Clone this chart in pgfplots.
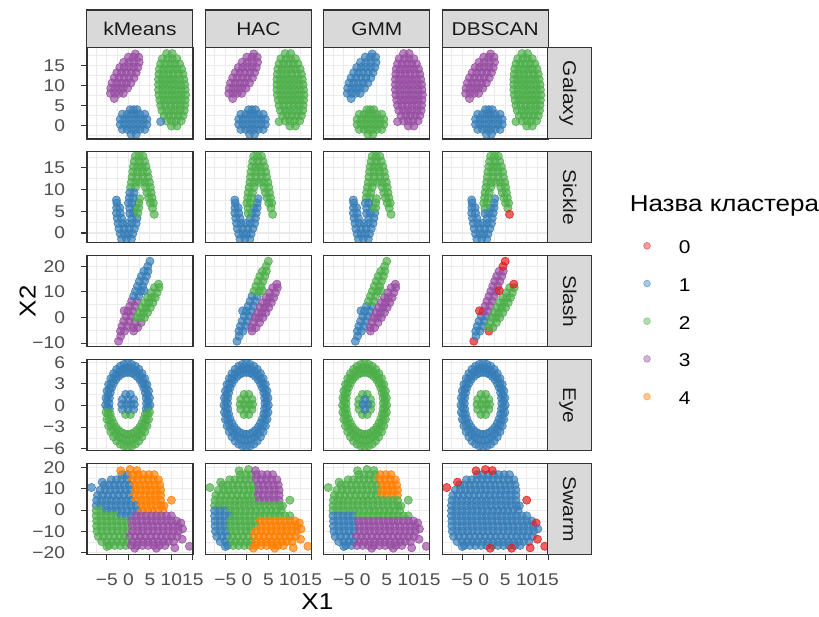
\documentclass[border=0pt]{standalone}
\usepackage{pgfplots}
\pgfplotsset{compat=1.18}
\usepackage{pgfplotstable}
\usepackage{fontspec}
\setmainfont[FakeStretch=1.13]{Liberation Sans}

\definecolor{c0}{HTML}{E41A1C}
\definecolor{c1}{HTML}{377EB8}
\definecolor{c2}{HTML}{4DAF4A}
\definecolor{c3}{HTML}{984EA3}
\definecolor{c4}{HTML}{FF7F00}
\definecolor{grey10}{HTML}{1A1A1A}
\definecolor{grey20}{HTML}{333333}
\definecolor{grey30}{HTML}{4D4D4D}
\definecolor{grey85}{HTML}{D9D9D9}
\definecolor{grey92}{HTML}{EBEBEB}

\newcommand{\fs}[1]{\fontsize{#1}{#1}\selectfont}

% columns: x, y, then the cluster label given by kMeans, HAC, GMM, DBSCAN
\pgfplotstableread[row sep=\\]{
x y k h g d\\
-3.3 6.7 3 3 1 3\\
-4.2 8.0 3 3 1 3\\ -3.2 8.0 3 3 1 3\\ -2.2 8.0 3 3 1 3\\ -1.2 8.0 3 3 1 3\\
-4.1 9.3 3 3 1 3\\ -3.1 9.3 3 3 1 3\\ -2.1 9.3 3 3 1 3\\ -1.2 9.3 3 3 1 3\\ -0.2 9.3 3 3 1 3\\
-3.8 10.6 3 3 1 3\\ -2.7 10.6 3 3 1 3\\ -1.6 10.6 3 3 1 3\\ -0.5 10.6 3 3 1 3\\ 0.6 10.6 3 3 1 3\\
-3.3 11.9 3 3 1 3\\ -2.2 11.9 3 3 1 3\\ -1.0 11.9 3 3 1 3\\ 0.1 11.9 3 3 1 3\\ 1.3 11.9 3 3 1 3\\
-2.7 13.2 3 3 1 3\\ -1.6 13.2 3 3 1 3\\ -0.5 13.2 3 3 1 3\\ 0.7 13.2 3 3 1 3\\ 1.8 13.2 3 3 1 3\\
-2.0 14.5 3 3 1 3\\ -1.0 14.5 3 3 1 3\\ 0.1 14.5 3 3 1 3\\ 1.2 14.5 3 3 1 3\\ 2.2 14.5 3 3 1 3\\
-1.1 15.8 3 3 1 3\\ 0.1 15.8 3 3 1 3\\ 1.3 15.8 3 3 1 3\\ 2.5 15.8 3 3 1 3\\
0.0 17.1 3 3 1 3\\ 1.2 17.1 3 3 1 3\\ 2.4 17.1 3 3 1 3\\
1.6 17.9 3 3 1 3\\
0.6 -2.25 1 1 2 1\\ 1.8 -2.25 1 1 2 1\\
-1.4 -1.05 1 1 2 1\\ -0.3 -1.05 1 1 2 1\\ 0.7 -1.05 1 1 2 1\\ 1.7 -1.05 1 1 2 1\\ 2.7 -1.05 1 1 2 1\\ 3.8 -1.05 1 1 2 1\\
-1.9 0.2 1 1 2 1\\ -0.9 0.2 1 1 2 1\\ 0.2 0.2 1 1 2 1\\ 1.2 0.2 1 1 2 1\\ 2.2 0.2 1 1 2 1\\ 3.3 0.2 1 1 2 1\\ 4.3 0.2 1 1 2 1\\
-1.9 1.5 1 1 2 1\\ -0.85 1.5 1 1 2 1\\ 0.2 1.5 1 1 2 1\\ 1.25 1.5 1 1 2 1\\ 2.3 1.5 1 1 2 1\\ 3.3 1.5 1 1 2 1\\ 4.3 1.5 1 1 2 1\\
-1.4 2.75 1 1 2 1\\ -0.3 2.75 1 1 2 1\\ 0.7 2.75 1 1 2 1\\ 1.7 2.75 1 1 2 1\\ 2.7 2.75 1 1 2 1\\ 3.8 2.75 1 1 2 1\\
0.4 3.9 1 1 2 1\\ 1.2 3.9 1 1 2 1\\ 2.0 3.9 1 1 2 1\\
10.0 -0.2 2 2 3 2\\ 11.3 -0.2 2 2 3 2\\
8.9 1.1 2 2 3 2\\ 10.0 1.1 2 2 3 2\\ 11.1 1.1 2 2 3 2\\ 12.3 1.1 2 2 3 2\\
8.3 2.4 2 2 3 2\\ 9.4 2.4 2 2 3 2\\ 10.5 2.4 2 2 3 2\\ 11.6 2.4 2 2 3 2\\ 12.7 2.4 2 2 3 2\\
7.8 3.7 2 2 3 2\\ 8.9 3.7 2 2 3 2\\ 9.9 3.7 2 2 3 2\\ 10.9 3.7 2 2 3 2\\ 12.0 3.7 2 2 3 2\\ 13.0 3.7 2 2 3 2\\
7.5 5.0 2 2 3 2\\ 8.6 5.0 2 2 3 2\\ 9.8 5.0 2 2 3 2\\ 10.9 5.0 2 2 3 2\\ 12.0 5.0 2 2 3 2\\ 13.1 5.0 2 2 3 2\\
7.3 6.3 2 2 3 2\\ 8.3 6.3 2 2 3 2\\ 9.3 6.3 2 2 3 2\\ 10.3 6.3 2 2 3 2\\ 11.3 6.3 2 2 3 2\\ 12.2 6.3 2 2 3 2\\ 13.2 6.3 2 2 3 2\\
7.1 7.6 2 2 3 2\\ 8.1 7.6 2 2 3 2\\ 9.2 7.6 2 2 3 2\\ 10.2 7.6 2 2 3 2\\ 11.2 7.6 2 2 3 2\\ 12.2 7.6 2 2 3 2\\ 13.3 7.6 2 2 3 2\\
7.0 8.9 2 2 3 2\\ 8.0 8.9 2 2 3 2\\ 9.1 8.9 2 2 3 2\\ 10.1 8.9 2 2 3 2\\ 11.1 8.9 2 2 3 2\\ 12.2 8.9 2 2 3 2\\ 13.2 8.9 2 2 3 2\\
7.0 10.2 2 2 3 2\\ 8.0 10.2 2 2 3 2\\ 9.0 10.2 2 2 3 2\\ 10.0 10.2 2 2 3 2\\ 11.0 10.2 2 2 3 2\\ 12.1 10.2 2 2 3 2\\ 13.1 10.2 2 2 3 2\\
7.0 11.5 2 2 3 2\\ 7.9 11.5 2 2 3 2\\ 8.9 11.5 2 2 3 2\\ 9.9 11.5 2 2 3 2\\ 10.9 11.5 2 2 3 2\\ 11.9 11.5 2 2 3 2\\ 12.9 11.5 2 2 3 2\\
7.1 12.8 2 2 3 2\\ 8.2 12.8 2 2 3 2\\ 9.3 12.8 2 2 3 2\\ 10.4 12.8 2 2 3 2\\ 11.6 12.8 2 2 3 2\\ 12.7 12.8 2 2 3 2\\
7.2 14.1 2 2 3 2\\ 8.2 14.1 2 2 3 2\\ 9.3 14.1 2 2 3 2\\ 10.3 14.1 2 2 3 2\\ 11.3 14.1 2 2 3 2\\ 12.4 14.1 2 2 3 2\\
7.5 15.4 2 2 3 2\\ 8.6 15.4 2 2 3 2\\ 9.7 15.4 2 2 3 2\\ 10.8 15.4 2 2 3 2\\ 11.9 15.4 2 2 3 2\\
7.9 16.7 2 2 3 2\\ 9.1 16.7 2 2 3 2\\ 10.2 16.7 2 2 3 2\\ 11.3 16.7 2 2 3 2\\
8.9 18.0 2 2 3 2\\ 10.2 18.0 2 2 3 2\\
7.5 0.9 1 2 3 2\\
}\galaxy

\pgfplotstableread[row sep=\\]{
x y k h g d\\
-1.6 -1.4 1 1 1 1\\ -0.45 -1.4 1 1 1 1\\ 0.7 -1.4 1 1 1 1\\
-1.9 -0.2 1 1 1 1\\ -0.9 -0.2 1 1 1 1\\ 0.0 -0.2 1 1 1 1\\ 1.0 -0.2 1 1 1 1\\
-2.2 1.0 1 1 1 1\\ -1.0 1.0 1 1 1 1\\ 0.2 1.0 1 1 1 1\\ 1.4 1.0 1 1 1 1\\
-2.4 2.2 1 1 1 1\\ -1.35 2.2 1 1 1 1\\ -0.3 2.2 1 1 1 1\\ 0.75 2.2 1 1 1 1\\ 1.8 2.2 1 1 1 1\\
-2.6 3.4 1 1 1 1\\ -1.6 3.4 1 1 1 1\\ 0.8 3.4 1 1 1 1\\ 2.0 3.4 1 1 1 1\\
-2.8 4.6 1 1 1 1\\ -1.9 4.6 1 1 1 1\\ 1.2 4.6 1 1 1 1\\ 2.2 4.6 2 1 1 1\\
-2.75 5.8 1 1 1 1\\ -2.0 5.8 1 1 1 1\\ 1.6 5.8 2 1 2 1\\ 2.4 5.8 2 1 2 1\\
-2.7 6.9 1 1 1 1\\ 2.4 6.9 2 1 2 1\\
-2.8 7.6 1 1 1 1\\ 2.6 7.9 2 1 2 1\\
1.6 17.7 2 2 2 2\\ 2.5 17.7 2 2 2 2\\ 3.4 17.7 2 2 2 2\\
1.35 16.5 2 2 2 2\\ 2.55 16.5 2 2 2 2\\ 3.75 16.5 2 2 2 2\\
1.15 15.3 2 2 2 2\\ 2.15 15.3 2 2 2 2\\ 3.1 15.3 2 2 2 2\\ 4.1 15.3 2 2 2 2\\
1.0 14.1 2 2 2 2\\ 2.1 14.1 2 2 2 2\\ 3.3 14.1 2 2 2 2\\ 4.4 14.1 2 2 2 2\\
0.85 12.9 2 2 2 2\\ 2.1 12.9 2 2 2 2\\ 3.35 12.9 2 2 2 2\\ 4.6 12.9 2 2 2 2\\
0.7 11.7 2 2 2 2\\ 1.75 11.7 2 2 2 2\\ 2.8 11.7 2 2 2 2\\ 3.85 11.7 2 2 2 2\\ 4.9 11.7 2 2 2 2\\
0.5 10.5 2 2 2 2\\ 1.6 10.5 2 2 2 2\\ 4.0 10.5 2 2 2 2\\ 5.1 10.5 2 2 2 2\\
0.3 9.3 1 2 2 2\\ 1.3 9.3 1 2 2 2\\ 4.3 9.3 2 2 2 2\\ 5.3 9.3 2 2 2 2\\
0.2 8.1 1 2 2 2\\ 1.1 8.1 1 2 2 2\\ 4.7 8.1 2 2 2 2\\ 5.5 8.1 2 2 2 2\\
0.0 6.9 1 2 1 2\\ 0.8 6.9 1 2 1 2\\ 5.1 6.9 2 2 2 2\\ 5.8 6.9 2 2 2 2\\
0.3 5.7 1 2 1 2\\ 5.6 5.7 2 2 2 2\\
0.3 4.5 1 2 1 1\\
6.0 4.3 2 2 2 0\\
}\sickle

\pgfplotstableread[row sep=\\]{
x y k h g d\\
-2.3 -9.25 3 1 1 0\\ -1.8 -7.3 3 1 1 1\\
-1.85 -5.35 3 1 1 1\\ -0.9 -5.35 3 1 1 1\\
-1.5 -3.4 3 1 1 1\\ -0.3 -3.4 3 1 1 1\\
-1.1 -1.45 3 1 1 1\\ 0.1 -1.45 3 1 1 1\\
-0.6 0.5 3 1 1 1\\ 0.6 0.5 3 1 1 1\\
-0.15 2.45 3 1 1 3\\ 1.05 2.45 3 1 1 3\\
0.3 4.4 3 1 1 3\\ 1.5 4.4 3 1 1 3\\
0.75 6.35 3 1 2 3\\ 1.95 6.35 3 1 2 3\\
1.2 8.3 1 1 2 3\\ 2.4 8.3 1 1 2 3\\
1.65 10.25 1 2 2 3\\ 2.85 10.25 1 2 2 3\\
2.1 12.2 1 2 2 3\\ 3.3 12.2 1 2 2 3\\
2.55 14.15 1 2 2 3\\ 3.75 14.15 1 2 2 3\\
3.0 16.1 1 2 2 3\\ 4.2 16.1 1 2 2 3\\
3.6 18.05 1 2 2 3\\ 4.55 18.05 1 2 2 3\\
4.5 20.0 1 2 2 0\\ 5.0 21.95 1 2 2 0\\
1.2 -5.3 3 3 3 0\\
1.15 -3.95 3 3 3 2\\ 2.15 -3.95 3 3 3 2\\
1.55 -2.0 3 3 3 2\\ 2.95 -2.0 3 3 3 2\\
1.95 -0.05 2 3 3 2\\ 2.85 -0.05 2 3 3 2\\ 3.75 -0.05 2 3 3 2\\
2.5 1.9 2 3 3 2\\ 3.5 1.9 2 3 3 2\\ 4.45 1.9 2 3 3 2\\
3.1 3.85 2 3 3 2\\ 4.1 3.85 2 3 3 2\\ 5.1 3.85 2 3 3 2\\
3.75 5.8 2 3 3 2\\ 4.7 5.8 2 3 3 2\\ 5.7 5.8 2 3 3 2\\
4.45 7.75 2 3 3 2\\ 5.35 7.75 2 3 3 2\\ 6.25 7.75 2 3 3 2\\
5.25 9.7 2 3 3 2\\ 6.65 9.7 2 3 3 2\\
6.05 11.65 2 3 3 2\\ 7.1 11.65 2 3 3 2\\
7.0 13.0 2 3 3 0\\
-1.0 2.6 3 1 1 0\\
3.6 10.5 1 2 2 0\\
}\slash

\pgfplotstableread[row sep=\\]{
x y k h g d\\
4.2 0.3 1 1 2 1\\ 4.13 1.05 1 1 2 1\\ 3.94 1.77 1 1 2 1\\ 3.62 2.45 1 1 2 1\\ 3.18 3.06 1 1 2 1\\
2.65 3.59 1 1 2 1\\ 2.03 4.02 1 1 2 1\\ 1.34 4.34 1 1 2 1\\ 0.61 4.54 1 1 2 1\\ -0.15 4.6 1 1 2 1\\
-0.91 4.54 1 1 2 1\\ -1.64 4.34 1 1 2 1\\ -2.33 4.02 1 1 2 1\\ -2.95 3.59 1 1 2 1\\ -3.48 3.06 1 1 2 1\\
-3.92 2.45 1 1 2 1\\ -4.24 1.77 1 1 2 1\\ -4.43 1.05 1 1 2 1\\ -4.5 0.3 1 1 2 1\\ -4.43 -0.45 1 1 2 1\\
-4.24 -1.17 2 1 2 1\\ -3.92 -1.85 2 1 2 1\\ -3.48 -2.46 2 1 2 1\\ -2.95 -2.99 2 1 2 1\\ -2.33 -3.42 2 1 2 1\\
-1.64 -3.74 2 1 2 1\\ -0.91 -3.94 2 1 2 1\\ -0.15 -4.0 2 1 2 1\\ 0.61 -3.94 2 1 2 1\\ 1.34 -3.74 2 1 2 1\\
2.03 -3.42 2 1 2 1\\ 2.65 -2.99 2 1 2 1\\ 3.18 -2.46 2 1 2 1\\ 3.62 -1.85 2 1 2 1\\ 3.94 -1.17 2 1 2 1\\
4.13 -0.45 1 1 2 1\\
4.58 0.61 1 1 2 1\\ 4.44 1.47 1 1 2 1\\ 4.15 2.29 1 1 2 1\\ 3.74 3.04 1 1 2 1\\ 3.21 3.71 1 1 2 1\\
2.58 4.27 1 1 2 1\\ 1.86 4.70 1 1 2 1\\ 1.08 5.0 1 1 2 1\\ 0.26 5.15 1 1 2 1\\ -0.56 5.15 1 1 2 1\\
-1.38 5.0 1 1 2 1\\ -2.16 4.70 1 1 2 1\\ -2.88 4.27 1 1 2 1\\ -3.51 3.71 1 1 2 1\\ -4.04 3.04 1 1 2 1\\
-4.45 2.29 1 1 2 1\\ -4.74 1.47 1 1 2 1\\ -4.88 0.61 1 1 2 1\\ -4.88 -0.27 1 1 2 1\\ -4.74 -1.13 2 1 2 1\\
-4.45 -1.95 2 1 2 1\\ -4.04 -2.70 2 1 2 1\\ -3.51 -3.37 2 1 2 1\\ -2.88 -3.93 2 1 2 1\\ -2.16 -4.36 2 1 2 1\\
-1.38 -4.66 2 1 2 1\\ -0.56 -4.81 2 1 2 1\\ 0.26 -4.81 2 1 2 1\\ 1.08 -4.66 2 1 2 1\\ 1.86 -4.36 2 1 2 1\\
2.58 -3.93 2 1 2 1\\ 3.21 -3.37 2 1 2 1\\ 3.74 -2.70 2 1 2 1\\ 4.15 -1.95 2 1 2 1\\ 4.44 -1.13 2 1 2 1\\
4.58 -0.27 1 1 2 1\\
5.0 0.05 1 1 2 1\\ 4.92 1.05 1 1 2 1\\ 4.69 2.02 1 1 2 1\\ 4.31 2.93 1 1 2 1\\ 3.79 3.75 1 1 2 1\\
3.16 4.45 1 1 2 1\\ 2.43 5.03 1 1 2 1\\ 1.61 5.46 1 1 2 1\\ 0.75 5.71 1 1 2 1\\ -0.15 5.8 1 1 2 1\\
-1.05 5.71 1 1 2 1\\ -1.91 5.46 1 1 2 1\\ -2.73 5.03 1 1 2 1\\ -3.46 4.45 1 1 2 1\\ -4.09 3.75 1 1 2 1\\
-4.61 2.93 1 1 2 1\\ -4.99 2.02 1 1 2 1\\ -5.22 1.05 1 1 2 1\\ -5.3 0.05 1 1 2 1\\ -5.22 -0.95 2 1 2 1\\
-4.99 -1.92 2 1 2 1\\ -4.61 -2.83 2 1 2 1\\ -4.09 -3.65 2 1 2 1\\ -3.46 -4.35 2 1 2 1\\ -2.73 -4.93 2 1 2 1\\
-1.91 -5.36 2 1 2 1\\ -1.05 -5.61 2 1 2 1\\ -0.15 -5.7 2 1 2 1\\ 0.75 -5.61 2 1 2 1\\ 1.61 -5.36 2 1 2 1\\
2.43 -4.93 2 1 2 1\\ 3.16 -4.35 2 1 2 1\\ 3.79 -3.65 2 1 2 1\\ 4.31 -2.83 2 1 2 1\\ 4.69 -1.92 2 1 2 1\\
4.92 -0.95 2 1 2 1\\
-0.65 1.55 1 2 2 2\\ 0.45 1.55 1 2 2 2\\
-1.4 0.85 1 2 2 2\\ 1.2 0.85 1 2 2 2\\
-1.55 0.15 1 2 2 2\\ 1.35 0.15 1 2 2 2\\
-1.4 -0.55 1 2 2 2\\ 1.2 -0.55 1 2 2 2\\
-0.65 -1.25 2 2 2 2\\ 0.45 -1.25 2 2 2 2\\
-0.1 0.85 1 2 1 2\\ -0.5 0.15 1 2 1 2\\ 0.55 0.15 1 2 1 2\\ -0.1 -0.55 1 2 1 2\\
}\eye

\pgfplotstableread[row sep=\\]{
x y k h g d\\
-1.5 16.5 1 2 2 1\\ -0.25 16.5 1 2 2 1\\ 1.0 16.5 4 2 2 1\\ 2.25 16.5 4 3 2 1\\ 3.5 16.5 4 3 4 1\\ 4.75 16.5 4 3 4 1\\ 6.0 16.5 4 3 4 1\\
-4.0 14.1 1 2 2 1\\ -2.8 14.1 1 2 2 1\\ -1.55 14.1 1 2 2 1\\ -0.35 14.1 1 2 2 1\\ 0.9 14.1 4 2 2 1\\
2.1 14.1 4 3 2 1\\ 3.35 14.1 4 3 4 1\\ 4.55 14.1 4 3 4 1\\ 5.8 14.1 4 3 4 1\\ 7.0 14.1 4 3 4 1\\
-5.6 11.7 1 2 2 1\\ -4.45 11.7 1 2 2 1\\ -3.25 11.7 1 2 2 1\\ -2.1 11.7 1 2 2 1\\ -0.9 11.7 1 2 2 1\\ 0.25 11.7 1 2 2 1\\
1.45 11.7 4 2 2 1\\ 2.6 11.7 4 3 2 1\\ 3.8 11.7 4 3 4 1\\ 4.95 11.7 4 3 4 1\\ 6.15 11.7 4 3 4 1\\ 7.3 11.7 4 3 4 1\\
-6.6 9.3 1 2 2 1\\ -5.4 9.3 1 2 2 1\\ -4.25 9.3 1 2 2 1\\ -3.05 9.3 1 2 2 1\\ -1.9 9.3 1 2 2 1\\ -0.7 9.3 1 2 2 1\\ 0.45 9.3 1 2 2 1\\
1.65 9.3 4 2 2 1\\ 2.8 9.3 4 3 2 1\\ 4.0 9.3 4 3 4 1\\ 5.15 9.3 4 3 4 1\\ 6.35 9.3 4 3 4 1\\ 7.5 9.3 4 3 4 1\\
-7.2 6.9 1 2 2 1\\ -6.0 6.9 1 2 2 1\\ -4.75 6.9 1 2 2 1\\ -3.55 6.9 1 2 2 1\\ -2.3 6.9 1 2 2 1\\ -1.1 6.9 1 2 2 1\\ 0.15 6.9 1 2 2 1\\
1.35 6.9 4 2 2 1\\ 2.6 6.9 4 3 2 1\\ 3.8 6.9 4 3 4 1\\ 5.05 6.9 4 3 4 1\\ 6.25 6.9 4 3 4 1\\ 7.5 6.9 4 3 4 1\\
-7.4 4.5 1 2 2 1\\ -6.25 4.5 1 2 2 1\\ -5.1 4.5 1 2 2 1\\ -3.95 4.5 1 2 2 1\\ -2.8 4.5 1 2 2 1\\ -1.65 4.5 1 2 2 1\\ -0.5 4.5 1 2 2 1\\
0.6 4.5 1 2 2 1\\ 1.75 4.5 4 2 2 1\\ 2.9 4.5 4 3 2 1\\ 4.05 4.5 4 3 2 1\\ 5.2 4.5 4 3 2 1\\ 6.35 4.5 4 3 2 1\\ 7.5 4.5 4 3 2 1\\
-7.5 2.1 1 2 2 1\\ -6.35 2.1 1 2 2 1\\ -5.2 2.1 1 2 2 1\\ -4.0 2.1 1 2 2 1\\ -2.85 2.1 1 2 2 1\\ -1.7 2.1 1 2 2 1\\ -0.55 2.1 1 2 2 1\\
0.6 2.1 1 2 2 1\\ 1.75 2.1 1 2 2 1\\ 2.95 2.1 4 2 2 1\\ 4.1 2.1 4 2 2 1\\ 5.25 2.1 4 2 2 1\\ 6.4 2.1 4 2 2 1\\ 7.6 2.1 4 2 2 1\\
-7.5 -0.3 2 1 2 1\\ -6.3 -0.3 2 1 2 1\\ -5.1 -0.3 1 1 2 1\\ -3.9 -0.3 1 2 2 1\\ -2.75 -0.3 1 2 2 1\\ -1.55 -0.3 1 2 2 1\\ -0.35 -0.3 1 2 2 1\\
0.85 -0.3 1 2 2 1\\ 2.05 -0.3 1 2 2 1\\ 3.25 -0.3 4 2 2 1\\ 4.45 -0.3 4 2 2 1\\ 5.6 -0.3 4 2 2 1\\ 6.8 -0.3 4 2 2 1\\ 8.0 -0.3 4 2 2 1\\
-7.5 -2.7 2 1 1 1\\ -6.35 -2.7 2 1 1 1\\ -5.15 -2.7 2 1 1 1\\ -4.0 -2.7 2 1 1 1\\ -2.85 -2.7 2 2 1 1\\ -1.65 -2.7 1 2 2 1\\
-0.5 -2.7 1 2 2 1\\ 0.65 -2.7 1 2 2 1\\ 1.85 -2.7 3 2 2 1\\ 3.0 -2.7 3 2 2 1\\ 4.15 -2.7 3 2 2 1\\ 5.35 -2.7 3 2 2 1\\
6.5 -2.7 3 2 2 1\\ 7.65 -2.7 3 2 2 1\\ 8.85 -2.7 3 2 2 1\\ 10.0 -2.7 3 2 2 1\\
-7.4 -5.1 2 1 1 1\\ -6.25 -5.1 2 1 1 1\\ -5.05 -5.1 2 1 1 1\\ -3.9 -5.1 2 2 1 1\\ -2.75 -5.1 2 2 1 1\\ -1.6 -5.1 2 2 3 1\\
-0.4 -5.1 2 2 3 1\\ 0.75 -5.1 3 2 3 1\\ 1.9 -5.1 3 2 3 1\\ 3.1 -5.1 3 4 3 1\\ 4.25 -5.1 3 4 3 1\\ 5.4 -5.1 3 4 3 1\\
6.55 -5.1 3 4 3 1\\ 7.7 -5.1 3 4 3 1\\ 8.9 -5.1 3 4 3 1\\ 10.05 -5.1 3 4 3 1\\ 11.2 -5.1 3 4 3 1\\
-7.4 -7.5 2 1 1 1\\ -6.2 -7.5 2 1 1 1\\ -5.0 -7.5 2 1 1 1\\ -3.85 -7.5 2 2 1 1\\ -2.65 -7.5 2 2 1 1\\ -1.45 -7.5 2 2 3 1\\
-0.25 -7.5 2 2 3 1\\ 0.9 -7.5 3 2 3 1\\ 2.1 -7.5 3 2 3 1\\ 3.3 -7.5 3 4 3 1\\ 4.5 -7.5 3 4 3 1\\ 5.65 -7.5 3 4 3 1\\
6.85 -7.5 3 4 3 1\\ 8.05 -7.5 3 4 3 1\\ 9.25 -7.5 3 4 3 1\\ 10.4 -7.5 3 4 3 1\\ 11.6 -7.5 3 4 3 1\\
-7.3 -9.9 2 1 1 1\\ -6.1 -9.9 2 1 1 1\\ -4.95 -9.9 2 1 1 1\\ -3.75 -9.9 2 2 1 1\\ -2.6 -9.9 2 2 1 1\\ -1.4 -9.9 2 2 3 1\\
-0.2 -9.9 2 2 3 1\\ 0.95 -9.9 3 2 3 1\\ 2.15 -9.9 3 4 3 1\\ 3.3 -9.9 3 4 3 1\\ 4.5 -9.9 3 4 3 1\\ 5.7 -9.9 3 4 3 1\\
6.85 -9.9 3 4 3 1\\ 8.05 -9.9 3 4 3 1\\ 9.2 -9.9 3 4 3 1\\ 10.4 -9.9 3 4 3 1\\ 11.6 -9.9 3 4 3 1\\
-7.0 -12.3 2 1 1 1\\ -5.8 -12.3 2 1 1 1\\ -4.55 -12.3 2 1 1 1\\ -3.35 -12.3 2 2 1 1\\ -2.1 -12.3 2 2 3 1\\ -0.9 -12.3 2 2 3 1\\
0.3 -12.3 3 2 3 1\\ 1.55 -12.3 3 4 3 1\\ 2.75 -12.3 3 4 3 1\\ 3.95 -12.3 3 4 3 1\\ 5.2 -12.3 3 4 3 1\\ 6.4 -12.3 3 4 3 1\\
7.65 -12.3 3 4 3 1\\ 8.85 -12.3 3 4 3 1\\ 10.05 -12.3 3 4 3 1\\ 11.3 -12.3 3 4 3 1\\
-6.2 -14.7 2 1 1 1\\ -5.0 -14.7 2 1 1 1\\ -3.8 -14.7 2 2 1 1\\ -2.65 -14.7 2 2 1 1\\ -1.45 -14.7 2 2 3 1\\ -0.25 -14.7 2 2 3 1\\
0.95 -14.7 3 2 3 1\\ 2.15 -14.7 3 4 3 1\\ 3.35 -14.7 3 4 3 1\\ 4.55 -14.7 3 4 3 1\\ 5.75 -14.7 3 4 3 1\\ 6.95 -14.7 3 4 3 1\\
8.1 -14.7 3 4 3 1\\ 9.3 -14.7 3 4 3 1\\ 10.5 -14.7 3 4 3 1\\
-4.5 -16.5 2 1 1 1\\ -3.2 -16.5 2 2 1 1\\ -1.9 -16.5 2 2 3 1\\ -0.6 -16.5 2 2 3 1\\ 0.7 -16.5 3 2 3 1\\ 2.0 -16.5 3 4 3 1\\
3.3 -16.5 3 4 3 1\\ 4.6 -16.5 3 4 3 1\\ 5.9 -16.5 3 4 3 1\\ 7.2 -16.5 3 4 3 1\\ 8.5 -16.5 3 4 3 1\\
-8.6 10.5 1 2 2 0\\ -6.1 13.0 1 2 2 0\\ -1.8 18.3 4 2 2 0\\ 0.4 18.9 4 2 2 0\\ 2.0 18.4 4 3 2 0\\
10.0 4.6 4 2 2 0\\ 8.3 2.0 4 2 2 1\\ 12.2 -6.0 3 4 3 0\\ 12.6 -8.8 3 4 3 1\\ 12.5 -13.6 3 4 3 0\\
14.2 -16.9 3 4 3 0\\ 1.5 -17.8 3 4 3 0\\ 6.5 -17.8 3 4 3 0\\ 10.8 -17.6 3 4 3 0\\ -5.0 -17.0 2 1 1 1\\
}\swarm

\pgfplotsset{
  panel/.style={
    scale only axis, width=106bp, height=91.2bp, anchor=south west,
    xmin=-9.65, xmax=15.0,
    xtick={-5,0,5,10,15}, minor xtick={-7.5,-2.5,2.5,7.5,12.5},
    grid=both,
    major grid style={draw=grey92, line width=1.1bp},
    minor grid style={draw=grey92, line width=0.55bp},
    axis line style={draw=none},
    tick align=outside, tick pos=left,
    major tick length=5.8bp, minor tick length=0pt,
    xtick style={draw=none}, ytick style={draw=none},
    xticklabels={}, yticklabels={},
    tick label style={text=grey30, font=\fs{17bp}, inner sep=0pt},
    xticklabel style={anchor=north, yshift=-13bp},
    yticklabel style={anchor=east, xshift=-16bp},
    clip marker paths=true,
  },
  leftcol/.style={ytick style={draw=grey20, line width=1.1bp}, yticklabels={#1}},
  bottomrow/.style={xtick style={draw=grey20, line width=1.1bp},
    xticklabels={−5,0,5,10,15}},
  galaxyrow/.style={ymin=-3.44, ymax=19.45, ytick={0,5,10,15},
    minor ytick={-2.5,2.5,7.5,12.5,17.5}},
  sicklerow/.style={ymin=-2.27, ymax=18.74, ytick={0,5,10,15},
    minor ytick={2.5,7.5,12.5,17.5}},
  slashrow/.style={ymin=-11.43, ymax=24.13, ytick={-10,0,10,20},
    minor ytick={-5,5,15}},
  eyerow/.style={ymin=-6.28, ymax=6.38, ytick={-6,-3,0,3,6},
    minor ytick={-4.5,-1.5,1.5,4.5}},
  swarmrow/.style={ymin=-20.8, ymax=21.7, ytick={-20,-10,0,10,20},
    minor ytick={-15,-5,5,15}},
  pts/.style={
    scatter, only marks, scatter src=explicit symbolic,
    mark=*, mark size=4.1bp,
    scatter/classes={
      0={draw=c0, fill=c0},
      1={draw=c1, fill=c1},
      2={draw=c2, fill=c2},
      3={draw=c3, fill=c3},
      4={draw=c4, fill=c4}},
    mark options={draw opacity=0.9, fill opacity=0.68, line width=0.6bp},
  },
  legdot/.style={only marks, mark=*, mark size=3.4bp, draw=#1, fill=#1,
    mark options={draw opacity=0.5, fill opacity=0.42, line width=0.7bp}},
}

\tikzset{
  frame/.style={draw=grey20, line width=1.3bp},
  stripbox/.style={fill=grey85, draw=grey20, line width=1.1bp},
}

% one facet: left edge, bottom edge, row style, table, label column, extra axis keys
\newcommand{\panel}[6]{%
  \begin{axis}[panel, #3, at={(#1bp,#2bp)}, #6]
    \addplot[pts] table[x=x, y=y, meta=#5] {#4};
  \end{axis}
  \draw[frame] (#1,#2) rectangle ++(106,91.2);
}

\begin{document}
\begin{tikzpicture}[x=1bp, y=1bp]
\fill[white] (0,0) rectangle (819,617);

% Galaxy
\panel{87}{478}{galaxyrow}{\galaxy}{k}{leftcol={0,5,10,15}}
\panel{205.5}{478}{galaxyrow}{\galaxy}{h}{}
\panel{324}{478}{galaxyrow}{\galaxy}{g}{}
\panel{442.5}{478}{galaxyrow}{\galaxy}{d}{}
% Sickle
\panel{87}{374}{sicklerow}{\sickle}{k}{leftcol={0,5,10,15}}
\panel{205.5}{374}{sicklerow}{\sickle}{h}{}
\panel{324}{374}{sicklerow}{\sickle}{g}{}
\panel{442.5}{374}{sicklerow}{\sickle}{d}{}
% Slash
\panel{87}{270}{slashrow}{\slash}{k}{leftcol={−10,0,10,20}}
\panel{205.5}{270}{slashrow}{\slash}{h}{}
\panel{324}{270}{slashrow}{\slash}{g}{}
\panel{442.5}{270}{slashrow}{\slash}{d}{}
% Eye
\panel{87}{166}{eyerow}{\eye}{k}{leftcol={−6,−3,0,3,6}}
\panel{205.5}{166}{eyerow}{\eye}{h}{}
\panel{324}{166}{eyerow}{\eye}{g}{}
\panel{442.5}{166}{eyerow}{\eye}{d}{}
% Swarm
\panel{87}{62}{swarmrow}{\swarm}{k}{leftcol={−20,−10,0,10,20}, bottomrow}
\panel{205.5}{62}{swarmrow}{\swarm}{h}{bottomrow}
\panel{324}{62}{swarmrow}{\swarm}{g}{bottomrow}
\panel{442.5}{62}{swarmrow}{\swarm}{d}{bottomrow}

% method strips on top
\foreach \cx/\name in {87/kMeans, 205.5/HAC, 324/GMM, 442.5/DBSCAN} {
  \draw[stripbox] (\cx,569.2) rectangle ++(106,37.8);
  \node[inner sep=0pt, text=grey10, font=\fs{18.5bp}] at (\cx+53,588.1) {\name};
}
% dataset strips on the right
\foreach \by/\name in {478/Galaxy, 374/Sickle, 270/Slash, 166/Eye, 62/Swarm} {
  \draw[stripbox] (548,\by) rectangle ++(44,91.2);
  \node[inner sep=0pt, text=grey10, font=\fs{18.5bp}, rotate=-90, anchor=base]
    at (563.4,\by+45.6) {\name};
}

% axis titles
\node[inner sep=0pt, font=\fs{23bp}] at (317.5,15.3) {X1};
\node[inner sep=0pt, font=\fs{23bp}, rotate=90] at (27.5,315.6) {X2};

% legend
\node[inner sep=0pt, anchor=base west, font=\fs{23bp}] at (630,405.3) {Назва кластера};
\begin{axis}[at={(644bp,276bp)}, anchor=south west, scale only axis,
  width=60bp, height=100bp, hide axis, xmin=0, xmax=1, ymin=0, ymax=1,
  legend style={at={(0,1)}, anchor=north west, draw=none, fill=none,
    inner sep=0pt, outer sep=0pt, row sep=24.7bp, column sep=28.5bp,
    font=\fs{18.5bp},
    nodes={inner sep=0pt, text height=13bp, text depth=0pt, anchor=base west}},
  legend image code/.code={\draw[#1] plot coordinates {(0bp,8bp)};},
]
\addlegendimage{legdot=c0}\addlegendentry{0}
\addlegendimage{legdot=c1}\addlegendentry{1}
\addlegendimage{legdot=c2}\addlegendentry{2}
\addlegendimage{legdot=c3}\addlegendentry{3}
\addlegendimage{legdot=c4}\addlegendentry{4}
\end{axis}
\end{tikzpicture}
\end{document}
